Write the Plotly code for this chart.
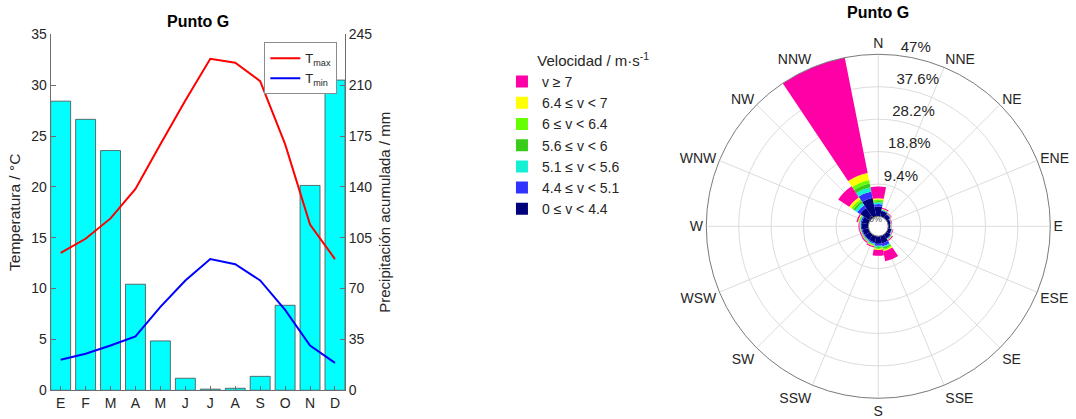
import plotly.graph_objects as go

# ---------------- Climograph data ----------------
month_labels = ['E', 'F', 'M', 'A', 'M', 'J', 'J', 'A', 'S', 'O', 'N', 'D']
month_idx = list(range(1, 13))
precip_mm = [199, 186.5, 165, 73, 34, 8.3, 0.8, 1.4, 9.6, 58.5, 141, 213.5]
t_max = [13.5, 14.9, 16.9, 19.8, 24.2, 28.5, 32.6, 32.2, 30.4, 24.2, 16.3, 12.9]
t_min = [3.0, 3.6, 4.4, 5.3, 8.2, 10.8, 12.9, 12.4, 10.8, 7.9, 4.4, 2.7]
temp_ticks = [0, 5, 10, 15, 20, 25, 30, 35]
precip_ticks = [0, 35, 70, 105, 140, 175, 210, 245]

# ---------------- Wind rose data ----------------
dir_labels = ['N', 'NNE', 'NE', 'ENE', 'E', 'ESE', 'SE', 'SSE',
              'S', 'SSW', 'SW', 'WSW', 'W', 'WNW', 'NW', 'NNW']
dir_angles = [0, 22.5, 45, 67.5, 90, 112.5, 135, 157.5,
              180, 202.5, 225, 247.5, 270, 292.5, 315, 337.5]
class_labels = ['0 ≤ v < 4.4', '4.4 ≤ v < 5.1', '5.1 ≤ v < 5.6', '5.6 ≤ v < 6',
                '6 ≤ v < 6.4', '6.4 ≤ v < 7', 'v ≥ 7']
class_colors = ['#00007A', '#3333FF', '#14F0D4', '#3ACC1A', '#66FF00', '#FFFF00', '#FF00A6']
# frequency (%) per direction for each speed class (N ... NNW)
f_0_44 = [2.9, 1.7, 1.3, 0.8, 0.6, 1.0, 1.4, 2.2, 2.2, 1.9, 1.8, 1.8, 1.9, 2.0, 3.5, 5.6]
f_44_51 = [0.7, 0.2, 0.15, 0.1, 0.1, 0.15, 0.2, 0.8, 0.6, 0.4, 0.3, 0.3, 0.3, 0.4, 1.0, 1.8]
f_51_56 = [0.5, 0.1, 0.1, 0.05, 0.05, 0.1, 0.1, 0.4, 0.3, 0.2, 0.15, 0.1, 0.1, 0.2, 0.8, 1.3]
f_56_6 = [0.4, 0.1, 0.05, 0.05, 0.05, 0.05, 0.1, 0.4, 0.3, 0.2, 0.15, 0.1, 0.1, 0.2, 0.6, 1.1]
f_6_64 = [0.4, 0.1, 0.05, 0.05, 0.05, 0.05, 0.1, 0.4, 0.3, 0.2, 0.15, 0.1, 0.1, 0.2, 0.6, 1.0]
f_64_7 = [0.4, 0.1, 0.05, 0.05, 0.05, 0.05, 0.1, 0.3, 0.3, 0.1, 0.1, 0.1, 0.1, 0.2, 0.8, 2.1]
f_7_up = [3.4, 0.3, 0.2, 0.15, 0.1, 0.2, 0.3, 3.0, 1.7, 0.4, 0.3, 0.3, 0.3, 0.4, 3.8, 34.1]
class_values = [f_0_44, f_44_51, f_51_56, f_56_6, f_6_64, f_64_7, f_7_up]
rose_ticks = [9.4, 18.8, 28.2, 37.6, 47]
rose_max = 47

FONT = 'Liberation Sans, Arial, sans-serif'
TXT = '#262626'
AX = '#6e6e6e'

fig = go.Figure()

# precipitation bars (primary y, right side) so lines draw on top
fig.add_trace(go.Bar(
    x=month_idx, y=precip_mm, width=0.8,
    marker=dict(color='#00FFFF', line=dict(color='#4a4a4a', width=0.8)),
    showlegend=False, xaxis='x', yaxis='y', name='Precipitación'))

fig.add_trace(go.Scatter(
    x=month_idx, y=t_max, mode='lines', line=dict(color='#FF0000', width=2),
    name='T<sub>max</sub>', xaxis='x', yaxis='y2', legend='legend'))
fig.add_trace(go.Scatter(
    x=month_idx, y=t_min, mode='lines', line=dict(color='#0000FF', width=2),
    name='T<sub>min</sub>', xaxis='x', yaxis='y2', legend='legend'))

# wind rose
for lab, col, vals in zip(class_labels, class_colors, class_values):
    fig.add_trace(go.Barpolar(
        r=vals, theta=dir_angles, width=22.5, name=lab,
        marker=dict(color=col, line=dict(width=0)),
        subplot='polar', legend='legend2'))

# radial tick labels
fig.add_trace(go.Scatterpolar(
    r=rose_ticks, theta=[7.5] * len(rose_ticks), mode='text',
    text=[f'{v:g}%' for v in rose_ticks], textposition='top right',
    textfont=dict(family=FONT, size=15, color=TXT),
    cliponaxis=False, showlegend=False, hoverinfo='skip', subplot='polar'))

fig.update_layout(
    template='none',
    width=1076, height=419, autosize=False,
    margin=dict(l=0, r=0, t=0, b=0, pad=0, autoexpand=False),
    paper_bgcolor='white', plot_bgcolor='white',
    font=dict(family=FONT, size=14, color=TXT),
    bargap=0.2,
    xaxis=dict(domain=[0.0471, 0.3206], range=[0.6, 12.4], automargin=False,
               tickvals=month_idx, ticktext=month_labels,
               ticks='inside', ticklen=4, tickcolor=AX,
               showline=True, linecolor=AX, linewidth=1,
               showgrid=False, zeroline=False, tickfont=dict(size=14, color=TXT)),
    yaxis=dict(domain=[0.0685, 0.9181], range=[0, 245], side='right', automargin=False,
               tickvals=precip_ticks, ticks='inside', ticklen=5, tickcolor=AX,
               showline=True, linecolor=AX, linewidth=1,
               showgrid=False, zeroline=False, anchor='x',
               title=dict(text='Precipitación acumulada / mm', font=dict(size=15, color=TXT), standoff=8),
               tickfont=dict(size=14, color=TXT)),
    yaxis2=dict(range=[0, 35], overlaying='y', side='left', anchor='x', automargin=False,
                tickvals=temp_ticks, ticks='inside', ticklen=5, tickcolor=AX,
                showline=True, linecolor=AX, linewidth=1,
                showgrid=False, zeroline=False,
                title=dict(text='Temperatura / °C', font=dict(size=15.5, color=TXT), standoff=6),
                tickfont=dict(size=14, color=TXT)),
    legend=dict(x=0.3135, y=0.899, xanchor='right', yanchor='top',
                bgcolor='white', bordercolor='#8c8c8c', borderwidth=1,
                font=dict(size=13, color=TXT), itemwidth=30, tracegroupgap=0),
    legend2=dict(x=0.4665, y=0.889, xanchor='left', yanchor='top',
                 bgcolor='rgba(0,0,0,0)', borderwidth=0, traceorder='reversed',
                 title=dict(text='\u00a0\u00a0\u00a0\u00a0\u00a0\u00a0\u00a0\u00a0Velocidad / m·s<sup>-1</sup>',
                            font=dict(size=15, color=TXT)),
                 font=dict(size=14, color=TXT), itemwidth=30, tracegroupgap=0),
    polar=dict(
        domain=dict(x=[0.6564, 0.9761], y=[0.0494, 0.8704]),
        bgcolor='white', hole=0.0575, barmode='stack',
        angularaxis=dict(rotation=90, direction='clockwise',
                         tickvals=dir_angles, ticktext=dir_labels,
                         showline=True, linecolor='#7a7a7a', linewidth=1,
                         showgrid=True, gridcolor='#dcdcdc', gridwidth=1,
                         ticks='', tickfont=dict(size=14, color=TXT)),
        radialaxis=dict(range=[0, rose_max], tickvals=rose_ticks,
                        showticklabels=False, ticks='', showline=False,
                        showgrid=True, gridcolor='#dcdcdc', gridwidth=1)),
    annotations=[
        dict(text='<b>Punto G</b>', x=198 / 1076, y=(419 - 22) / 419, xref='paper', yref='paper',
             showarrow=False, font=dict(size=16, color='black'), xanchor='center', yanchor='middle'),
        dict(text='<b>Punto G</b>', x=878.3 / 1076, y=(419 - 13) / 419, xref='paper', yref='paper',
             showarrow=False, font=dict(size=16, color='black'), xanchor='center', yanchor='middle'),
        dict(text='0%', x=875 / 1076, y=(419 - 219) / 419, xref='paper', yref='paper',
             showarrow=False, font=dict(size=9, color='#555555'), xanchor='center', yanchor='middle'),
    ],
)

fig.write_html('out.html', config={'displayModeBar': False},
               post_script="document.body.style.margin='0';document.body.style.padding='0';")
